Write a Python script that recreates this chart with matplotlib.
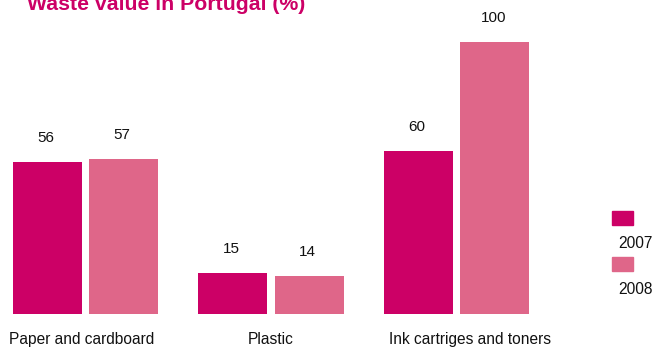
import matplotlib
matplotlib.use("Agg")
import matplotlib.pyplot as plt
from matplotlib.patches import Rectangle

plt.rcParams['font.family'] = ['Liberation Sans', 'DejaVu Sans']

categories = ["Paper and cardboard", "Plastic", "Ink cartriges and toners"]
years = ["2007", "2008"]
values_2007 = [56, 15, 60]
values_2008 = [57, 14, 100]
title = "Waste value in Portugal (%)"

c2007 = "#CC0066"
c2008 = "#DF6689"

W, H = 657, 347
fig = plt.figure(figsize=(W / 100, H / 100), dpi=100)

# axes occupies 0..542 px horizontally, baseline at 314 px from top
ax = fig.add_axes([0, (H - 314) / H, 542 / W, 299.2 / H])
ax.set_xlim(-0.461, 2.461)
ax.set_ylim(0, 110)
ax.axis("off")

width = 0.372
offset = 0.205
x = list(range(len(categories)))
for vals, sign, col in [(values_2007, -1, c2007), (values_2008, 1, c2008)]:
    xs = [i + sign * offset for i in x]
    ax.bar(xs, vals, width=width, color=col)
    for xi, v in zip(xs, vals):
        ax.annotate(str(v), (xi, v), xytext=(-1, 14.5), textcoords="offset points",
                    ha="center", va="baseline", fontsize=11, color="#111111")

# category names under each group (slightly shifted for the long labels)
label_shift = [-3, 0, 10]
for i, cat, dx in zip(x, categories, label_shift):
    ax.annotate(cat, (i, 0), xytext=(dx, -21.5), textcoords="offset points",
                ha="center", va="baseline", fontsize=11.2, color="#111111")

# legend: swatch with year underneath
for (yr, col, top) in [(years[0], c2007, 211), (years[1], c2008, 257)]:
    fig.patches.append(Rectangle((612 / W, (H - top - 13.5) / H), 21 / W, 13.5 / H,
                                 transform=fig.transFigure, color=col))
    fig.text(618 / W, (H - top - 37) / H, yr, ha="left", va="baseline",
             fontsize=11.2, color="#111111")

fig.text(27 / W, (H - 10) / H, title, ha="left", va="baseline",
         fontsize=15.3, fontweight="bold", color=c2007)

fig.savefig("out.png", dpi=100)
